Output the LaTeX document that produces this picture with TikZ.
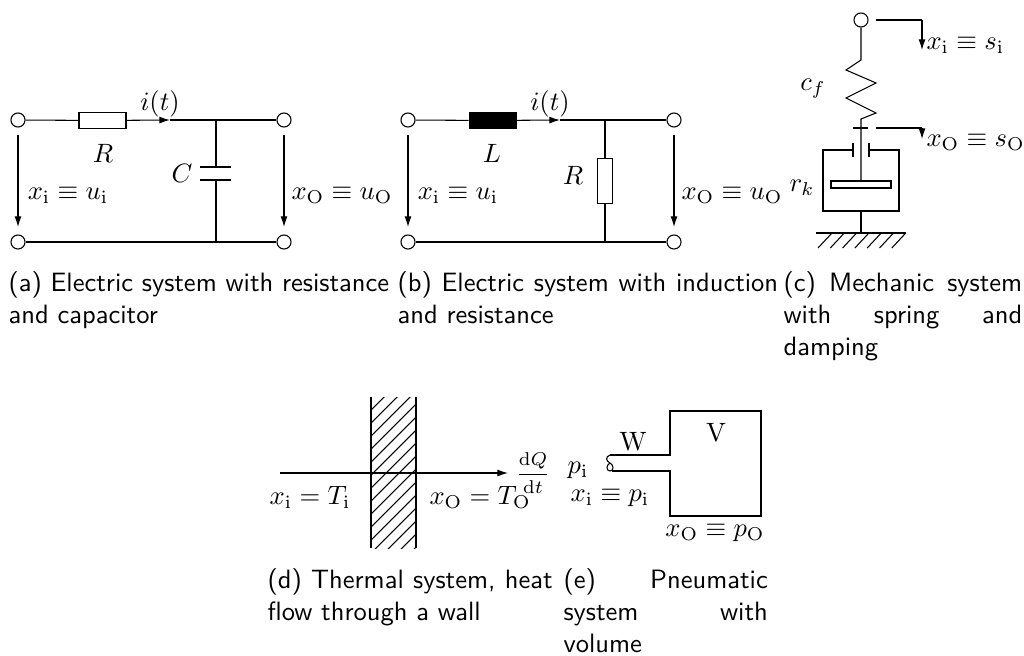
\documentclass[tikz,border=0pt]{standalone}
\usetikzlibrary{arrows.meta}
\begin{document}
\begin{tikzpicture}[x=0.377pt,y=-0.377pt,
  term/.style={circle,draw,inner sep=0pt,minimum size=5.3pt},
  rbox/.style={draw,rectangle,inner sep=0pt,minimum width=17.7pt,minimum height=5.7pt},
  lbox/.style={draw,fill=black,rectangle,inner sep=0pt,minimum width=17.7pt,minimum height=5.7pt},
  vrbox/.style={draw,rectangle,inner sep=0pt,minimum width=5.7pt,minimum height=17.3pt},
  arr/.style={-{Latex[length=4pt,width=2.6pt]}},
  lbl/.style={inner sep=0pt},
  captxt/.style={inner sep=0pt,anchor=north west,font=\sffamily,align=justify}]
\path[use as bounding box] (0,0) rectangle (1024,655);

% ---------------- (a) ----------------
\node[term] (a1) at (18,120) {};
\node[term] (a2) at (284,120) {};
\node[term] (a3) at (18,242) {};
\node[term] (a4) at (284,242) {};
\node[rbox] (aR) at (102.5,120.5) {};
\coordinate (ai) at (170,120);
\coordinate (aj) at (216,120);
\coordinate (ajb) at (216,242);
\coordinate (ac1) at (216,167);
\coordinate (ac2) at (216,180);
\draw (a1) -- (aR);
\draw[arr] (aR) -- (ai);
\draw (ai) -- (aj) -- (a2);
\draw (a3) -- (ajb) -- (a4);
\draw (aj) -- (ac1);
\draw (ac2) -- (ajb);
\draw (200,167) -- (231,167);
\draw (200,180) -- (231,180);
\coordinate (av1) at (18,135); \coordinate (av2) at (18,227);
\coordinate (av3) at (284,135); \coordinate (av4) at (284,227);
\draw[arr] (av1) -- (av2);
\draw[arr] (av3) -- (av4);
\node[lbl] (ait) at (160,104) {$i(t)$};
\node[lbl] (aRl) at (103,153) {$R$};
\node[lbl] (aCl) at (182,173) {$C$};
\node[lbl] (axi) at (68,195) {$x_\mathrm{i}\equiv u_\mathrm{i}$};
\node[lbl,anchor=west] (axo) at (291,195) {$x_\mathrm{O}\equiv u_\mathrm{O}$};

% ---------------- (b) ----------------
\node[term] (b1) at (408,120) {};
\node[term] (b2) at (674,120) {};
\node[term] (b3) at (408,242) {};
\node[term] (b4) at (674,242) {};
\node[lbox] (bL) at (492.5,120.5) {};
\node[vrbox] (bR) at (605,181) {};
\coordinate (bi) at (560,120);
\coordinate (bj) at (605,120);
\coordinate (bjb) at (605,242);
\draw (b1) -- (bL);
\draw[arr] (bL) -- (bi);
\draw (bi) -- (bj) -- (b2);
\draw (b3) -- (bjb) -- (b4);
\draw (bj) -- (bR) -- (bjb);
\coordinate (bv1) at (408,135); \coordinate (bv2) at (408,227);
\coordinate (bv3) at (674,135); \coordinate (bv4) at (674,227);
\draw[arr] (bv1) -- (bv2);
\draw[arr] (bv3) -- (bv4);
\node[lbl] (bit) at (550,104) {$i(t)$};
\node[lbl] (bLl) at (492,153) {$L$};
\node[lbl] (bRl) at (573,175) {$R$};
\node[lbl] (bxi) at (458,195) {$x_\mathrm{i}\equiv u_\mathrm{i}$};
\node[lbl,anchor=west] (bxo) at (681,195) {$x_\mathrm{O}\equiv u_\mathrm{O}$};

% ---------------- (c) ----------------
\node[term] (c1) at (861,20) {};
\coordinate (cs1) at (876,20);
\coordinate (cs2) at (922,20);
\coordinate (cs3) at (922,50);
\draw (cs1) -- (cs2);
\draw[arr] (cs2) -- (cs3);
\draw (c1) -- (861,60) -- (846,70) -- (876,83) -- (846,98) -- (876,113) -- (861,119) -- (861,181);
\draw (853,128) -- (868,128);
\coordinate (co1) at (876,128);
\coordinate (co2) at (922,128);
\coordinate (co3) at (922,139);
\draw (co1) -- (co2);
\draw[arr] (co2) -- (co3);
\draw (853,143) -- (853,157);
\draw (869,143) -- (869,157);
\draw (853,150) -- (823,150) -- (823,211) -- (899,211) -- (899,150) -- (869,150);
\draw (831,181) rectangle (891,188);
\draw (861,211) -- (861,233);
\draw (816,233) -- (906,233);
\foreach \k in {0,...,6} {
  \draw (832+12.3*\k,233) -- (818+12.3*\k,248);
}
\node[lbl,anchor=west] (cxi) at (926,45) {$x_\mathrm{i}\equiv s_\mathrm{i}$};
\node[lbl,anchor=west] (cxo) at (926,142) {$x_\mathrm{O}\equiv s_\mathrm{O}$};
\node[lbl] (ccf) at (813,89) {$c_f$};
\node[lbl] (crk) at (802,188) {$r_k$};

% ---------------- (d) ----------------
\begin{scope}
\clip (371,397) rectangle (416,548);
\foreach \k in {-1,...,16} {
  \draw (371,397+13*\k) -- (416,352+13*\k);
}
\end{scope}
\draw (371,397) -- (371,548);
\draw (416,397) -- (416,548);
\coordinate (d1) at (280,473);
\coordinate (d2) at (508,473);
\draw[arr] (d1) -- (d2);
\node[lbl] (dxi) at (310,497) {$x_\mathrm{i}=T_\mathrm{i}$};
\node[lbl,anchor=west] (dxo) at (429,497) {$x_\mathrm{O}=T_\mathrm{O}$};
\node[lbl] (dq) at (533,473) {\fontsize{7}{8}\selectfont$\displaystyle\frac{\mathrm{d}Q}{\mathrm{d}t}$};

% ---------------- (e) ----------------
\draw (610,455) -- (670,455) -- (670,411) -- (761,411) -- (761,516) -- (670,516) -- (670,471) -- (612,471);
\draw (610,455) .. controls (605,457) and (606,461) .. (610,463)
      .. controls (614,465) and (614,471) .. (610,471)
      .. controls (606,471) and (606,465) .. (610,463);
\node[lbl] (eW) at (633,442) {W};
\node[lbl] (eV) at (716,433) {V};
\node[lbl] (epi) at (578,470) {$p_\mathrm{i}$};
\node[lbl] (exi) at (610,498) {$x_\mathrm{i}\equiv p_\mathrm{i}$};
\node[lbl] (exo) at (715,533) {$x_\mathrm{O}\equiv p_\mathrm{O}$};

% ---------------- captions ----------------
\node[captxt,text width=143.5pt] (capa) at (8,271) {(a) Electric system with resistance\linebreak and capacitor};
\node[captxt,text width=143.5pt] (capb) at (397,271) {(b) Electric system with induction\linebreak and resistance};
\node[captxt,text width=90pt] (capc) at (783,271) {(c) Mechanic system\linebreak with spring and\linebreak damping};
\node[captxt,text width=107.5pt] (capd) at (267,568) {(d) Thermal system, heat\linebreak flow through a wall};
\node[captxt,text width=77pt] (cape) at (563,568) {(e) Pneumatic\linebreak system with\linebreak volume};
\end{tikzpicture}
\end{document}
